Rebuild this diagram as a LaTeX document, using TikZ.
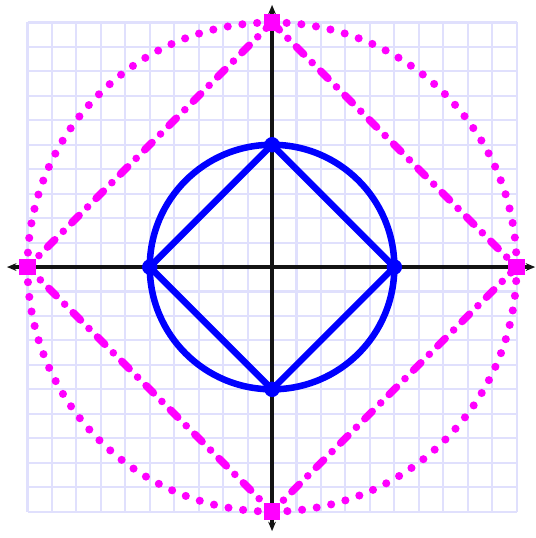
\documentclass[tikz,border=0pt]{standalone}
\usetikzlibrary{arrows.meta}
\definecolor{gridc}{RGB}{224,224,253}
\definecolor{mag}{RGB}{255,0,255}
\definecolor{blu}{RGB}{0,0,255}
\definecolor{axc}{RGB}{20,20,20}
\tikzset{
  gridline/.style={draw=gridc,line width=1.2pt},
  axisline/.style={draw=axc,line width=2pt,{Stealth[length=5.5pt,width=4.5pt]}-{Stealth[length=5.5pt,width=4.5pt]}},
  bluline/.style={draw=blu,line width=3.8pt,line join=round},
  magdot/.style={draw=mag,line width=4.7pt,line cap=round,dash pattern=on 0pt off 8.6pt},
  magdashdot/.style={draw=mag,line width=4.4pt,line cap=round,dash pattern=on 6pt off 7pt on 0pt off 7pt},
  magsq/.style={fill=mag,rectangle,inner sep=0pt,minimum size=9.5pt},
  bludot/.style={fill=blu,circle,inner sep=0pt,minimum size=9pt}
}
\begin{document}
\begin{tikzpicture}[x=0.5cm,y=0.5cm]
\useasboundingbox (-11.125,-11.08) rectangle (10.76,10.92);
\fill[white] (-11.125,-11.08) rectangle (10.76,10.92);
% grid
\foreach \i in {-10,...,10} {
  \draw[gridline] (\i,-10) -- (\i,10);
  \draw[gridline] (-10,\i) -- (10,\i);
}
% axes
\coordinate (xl) at (-10.84,0);
\coordinate (xr) at (10.76,0);
\coordinate (yt) at (0,10.72);
\coordinate (yb) at (0,-10.8);
\draw[axisline] (xl) -- (xr);
\draw[axisline] (yb) -- (yt);
% vertices
\coordinate (MT) at (0,10);
\coordinate (MR) at (10,0);
\coordinate (MB) at (0,-10);
\coordinate (ML) at (-10,0);
\coordinate (BT) at (0,5);
\coordinate (BR) at (5,0);
\coordinate (BB) at (0,-5);
\coordinate (BL) at (-5,0);
\coordinate (O) at (0,0);
% magenta
\draw[magdot] (O) circle[radius=10];
\draw[magdashdot] (MT) -- (MR) -- (MB) -- (ML) -- cycle;
% blue
\draw[bluline] (O) circle[radius=5];
\draw[bluline] (BT) -- (BR) -- (BB) -- (BL) -- cycle;
% markers
\foreach \p in {MT,MR,MB,ML} \node[magsq] at (\p) {};
\foreach \p in {BT,BR,BB,BL} \node[bludot] at (\p) {};
\end{tikzpicture}
\end{document}
